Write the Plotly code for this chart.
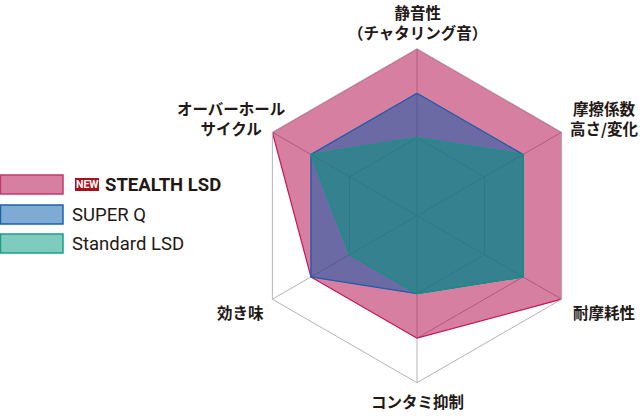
import plotly.graph_objects as go

# axes, clockwise from the top
categories = ["静音性（チャタリング音）", "摩擦係数高さ/変化", "耐摩耗性", "コンタミ抑制", "効き味", "オーバーホールサイクル"]
axis_labels = ["静音性<br>（チャタリング音）", "摩擦係数<br>高さ/変化", "耐摩耗性", "コンタミ抑制", "効き味", "オーバーホール<br>サイクル"]

series_names = ["STEALTH LSD", "SUPER Q", "Standard LSD"]
stealth = [5, 5, 5, 4, 4, 5]
super_q = [4, 4, 4, 3, 4, 4]
standard = [3, 4, 4, 3, 3, 4]

grid_levels = [3, 4, 5]

W, H = 640, 416
CX, CY, R = 417, 215.7, 167


def px_x(x):
    return x / W


def px_y(y):
    return 1 - y / H


fills = ["rgba(175,0,67,0.5)", "rgba(0,85,167,0.5)", "rgba(0,151,121,0.5)"]
lines = ["#c8155c", "#1a5fae", "#0a9a7e"]
swatch_fill = ["#d77fa1", "#7faad3", "#7fcbbe"]
swatch_line = ["#c23a6f", "#1d62ab", "#17a286"]

fig = go.Figure()
for name, vals, fc, lc in zip(series_names, [stealth, super_q, standard], fills, lines):
    fig.add_trace(go.Scatterpolar(
        r=vals + vals[:1], theta=categories + categories[:1],
        name=name, mode="lines", fill="toself", fillcolor=fc,
        line=dict(color=lc, width=1.2), showlegend=False, hoverinfo="skip",
    ))

grid_col = "#b4b4b4"
fig.update_layout(
    width=W, height=H,
    margin=dict(l=0, r=0, t=0, b=0),
    paper_bgcolor="white", plot_bgcolor="white",
    polar=dict(
        domain=dict(x=[px_x(CX - R), px_x(CX + R)], y=[px_y(CY + R), px_y(CY - R)]),
        gridshape="linear",
        bgcolor="rgba(0,0,0,0)",
        angularaxis=dict(rotation=90, direction="clockwise", showticklabels=False, ticks="",
                         linecolor=grid_col, linewidth=1, gridcolor=grid_col, gridwidth=1),
        radialaxis=dict(range=[1.25, 5], tickvals=grid_levels, showticklabels=False, ticks="",
                        showline=False, gridcolor=grid_col, gridwidth=1),
    ),
)

# axis labels
label_pos = [(417, 22), (604, 118), (604, 312), (417, 401), (240, 312), (231, 118)]
jp_font = dict(family="Noto Sans CJK JP", size=15.5, color="#231815", weight="bold")
for text, (x, y) in zip(axis_labels, label_pos):
    fig.add_annotation(x=px_x(x), y=px_y(y), xref="paper", yref="paper", text=text,
                       showarrow=False, xanchor="center", yanchor="middle", font=jp_font)

# legend, drawn by hand
latin = "Roboto"
rows_y = [(175, 194), (205, 224), (234, 253)]
for i, (y0, y1) in enumerate(rows_y):
    fig.add_shape(type="rect", xref="paper", yref="paper",
                  x0=px_x(0.5), x1=px_x(63), y0=px_y(y1), y1=px_y(y0),
                  fillcolor=swatch_fill[i], line=dict(color=swatch_line[i], width=1.5))

fig.add_shape(type="rect", xref="paper", yref="paper",
              x0=px_x(75), x1=px_x(99), y0=px_y(191), y1=px_y(178),
              fillcolor="#a8101e", line=dict(width=0))
fig.add_annotation(x=px_x(87), y=px_y(184.5), xref="paper", yref="paper", text="NEW",
                   showarrow=False, xanchor="center", yanchor="middle",
                   font=dict(family=latin, size=10.5, color="white", weight="bold"))

legend_x = [103, 70, 70]
for i, name in enumerate(series_names):
    y = (rows_y[i][0] + rows_y[i][1]) / 2
    fig.add_annotation(x=px_x(legend_x[i]), y=px_y(y), xref="paper", yref="paper", text=name,
                       showarrow=False, xanchor="left", yanchor="middle",
                       font=dict(family=latin, size=18.5, color="#231815",
                                 weight="bold" if i == 0 else "normal"))

fig.write_html("out.html", config={"displayModeBar": False},
               post_script="document.body.style.margin='0';")
